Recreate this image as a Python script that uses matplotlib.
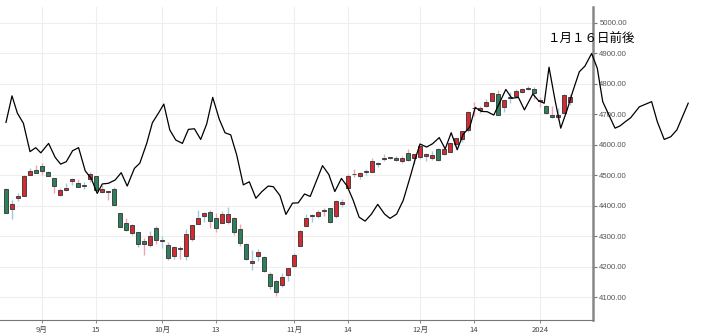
import matplotlib
matplotlib.use("Agg")
import matplotlib.pyplot as plt
import numpy as np

# ---- data (S&P-style daily candles, trading days) ----
dates = ["08-24","08-25","08-28","08-29","08-30","08-31","09-01","09-05","09-06","09-07",
         "09-08","09-11","09-12","09-13","09-14","09-15","09-18","09-19","09-20","09-21",
         "09-22","09-25","09-26","09-27","09-28","09-29","10-02","10-03","10-04","10-05",
         "10-06","10-09","10-10","10-11","10-12","10-13","10-16","10-17","10-18","10-19",
         "10-20","10-23","10-24","10-25","10-26","10-27","10-30","10-31","11-01","11-02",
         "11-03","11-06","11-07","11-08","11-09","11-10","11-13","11-14","11-15","11-16",
         "11-17","11-20","11-21","11-22","11-24","11-27","11-28","11-29","11-30","12-01",
         "12-04","12-05","12-06","12-07","12-08","12-11","12-12","12-13","12-14","12-15",
         "12-18","12-19","12-20","12-21","12-22","12-26","12-27","12-28","12-29","01-02",
         "01-03","01-04","01-05","01-08","01-09"]
opens = [4455,4389,4426,4433,4501,4518,4530,4510,4490,4434,
         4452,4481,4473,4463,4487,4497,4445,4446,4453,4375,
         4342,4310,4312,4283,4270,4328,4284,4270,4234,4260,
         4234,4289,4339,4366,4380,4360,4343,4346,4358,4322,
         4273,4210,4235,4232,4175,4152,4140,4171,4201,4268,
         4334,4365,4367,4384,4392,4365,4406,4458,4505,4497,
         4509,4511,4538,4554,4555,4555,4546,4571,4555,4559,
         4564,4557,4586,4568,4576,4601,4619,4647,4721,4714,
         4726,4744,4765,4724,4753,4758,4774,4786,4782,4745,
         4726,4698,4690,4704,4741]
highs = [4458,4418,4440,4500,4522,4532,4541,4514,4490,4457,
         4473,4490,4488,4478,4511,4497,4466,4449,4462,4376,
         4358,4338,4313,4293,4317,4333,4300,4281,4268,4267,
         4324,4336,4385,4378,4386,4377,4383,4394,4364,4339,
         4276,4255,4259,4233,4183,4156,4178,4195,4245,4319,
         4374,4372,4386,4392,4393,4418,4421,4504,4521,4511,
         4521,4557,4542,4569,4560,4562,4562,4587,4569,4599,
         4572,4579,4590,4591,4610,4623,4644,4709,4739,4726,
         4749,4769,4778,4748,4773,4784,4785,4793,4788,4755,
         4729,4727,4721,4765,4765]
lows = [4375,4356,4414,4431,4499,4507,4501,4496,4442,4430,
        4448,4468,4461,4455,4478,4448,4442,4417,4402,4329,
        4315,4303,4265,4239,4264,4274,4260,4220,4225,4226,
        4220,4283,4339,4345,4325,4312,4343,4338,4303,4269,
        4223,4189,4219,4181,4127,4103,4132,4153,4197,4268,
        4334,4347,4360,4365,4343,4358,4394,4458,4495,4488,
        4500,4510,4526,4545,4553,4546,4541,4547,4537,4554,
        4546,4551,4546,4566,4575,4593,4610,4643,4694,4704,
        4725,4743,4697,4708,4737,4758,4769,4780,4751,4722,
        4700,4688,4682,4703,4730]
closes = [4376,4406,4433,4497,4514,4508,4515,4497,4465,4451,
          4457,4487,4462,4467,4505,4450,4454,4444,4402,4330,
          4320,4337,4274,4275,4300,4288,4288,4229,4263,4258,
          4308,4336,4358,4376,4349,4327,4373,4373,4314,4278,
          4224,4217,4248,4186,4137,4117,4166,4194,4237,4318,
          4358,4365,4378,4383,4347,4415,4411,4496,4502,4508,
          4514,4547,4538,4556,4559,4550,4555,4551,4568,4595,
          4569,4567,4549,4585,4604,4622,4644,4707,4719,4719,
          4740,4768,4698,4746,4755,4775,4781,4783,4770,4743,
          4705,4689,4697,4764,4756]

# overlay projection line (position in trading days, value)
line_pos = [0.0,1.0,1.9,2.9,4.0,4.95,5.8,7.1,8.2,9.1,
            10.05,11.1,12.1,13.2,14.2,15.2,16.05,17.05,18.2,19.2,
            20.2,21.4,22.3,23.45,24.4,25.4,26.3,27.3,28.3,29.4,
            30.4,31.4,32.45,33.45,34.45,35.55,36.5,37.45,38.45,39.55,
            40.55,41.65,42.65,43.7,44.55,45.65,46.65,47.75,48.7,49.75,
            50.7,52.75,53.8,54.8,55.9,56.85,57.85,58.85,59.85,60.9,
            61.95,63.1,64.0,65.1,66.2,67.3,68.25,69.0,70.1,71.1,
            72.2,73.2,74.2,75.2,76.2,77.3,78.2,79.2,80.2,81.3,
            83.3,84.3,85.4,86.4,87.8,88.8,89.7,90.5,91.5,92.45,
            93.55,94.45,95.55,96.5,97.6,98.55,99.45,101.5,102.3,103.2,
            104.1,105.55,107.6,108.55,109.7,110.8,111.8,113.7]
line_vals = [4673,4760,4703,4670,4577,4590,4573,4604,4558,4536,
             4544,4580,4590,4514,4489,4440,4471,4473,4484,4508,
             4464,4522,4539,4604,4672,4703,4733,4648,4615,4604,
             4650,4652,4617,4668,4755,4683,4639,4632,4566,4468,
             4478,4424,4446,4464,4462,4433,4371,4408,4409,4438,
             4430,4531,4502,4446,4489,4464,4418,4362,4349,4372,
             4404,4372,4358,4372,4417,4490,4556,4602,4592,4603,
             4623,4586,4639,4583,4634,4658,4722,4709,4708,4697,
             4781,4752,4755,4714,4766,4743,4736,4854,4746,4654,
             4716,4774,4839,4858,4899,4850,4741,4654,4661,4675,
             4688,4724,4741,4675,4617,4626,4648,4736]

tick_dates = ["09-01","09-15","10-02","10-13","11-01","11-14","12-01","12-14","01-02"]
tick_labels = ["9月","15","10月","13","11月","14","12月","14","2024"]
y_ticks = [4100,4200,4300,4400,4500,4600,4700,4800,4900,5000]
annotation = "１月１６日前後"

# ---- figure ----
W, H = 706, 333
fig = plt.figure(figsize=(W/100, H/100), dpi=100)
ax = fig.add_axes([0.0, 1-320/H, 593/W, (320-7)/H])

x = np.arange(len(dates))
o = np.array(opens, float); c = np.array(closes, float)
h = np.array(highs, float); l = np.array(lows, float)
up = c >= o
red, green = "#d42a30", "#2d805c"
wick_up, wick_dn = "#9fcbe0", "#f0a3b0"

ax.vlines(x[up], l[up], h[up], color=wick_up, lw=1.0, zorder=2)
ax.vlines(x[~up], l[~up], h[~up], color=wick_dn, lw=1.0, zorder=2)
bottoms = np.minimum(o, c)
heights = np.maximum(np.abs(c - o), 2.5)
ax.bar(x, heights, bottom=bottoms, width=0.74,
       color=np.where(up, red, green), edgecolor="#333333", linewidth=0.6, zorder=3)

ax.plot(line_pos, line_vals, color="black", lw=0.9, clip_on=False, zorder=6)

ax.set_xlim(-1, 97.83)
ax.set_ylim(4024.6, 5051.5)

ax.yaxis.tick_right()
ax.set_yticks(y_ticks)
ax.set_yticklabels([f"{v:.2f}" for v in y_ticks], fontsize=5.6,
                   family=["Liberation Sans", "DejaVu Sans"], color="#555555")
ax.tick_params(axis="y", length=3, width=0.8, color="#777777", pad=1.5)

tpos = [dates.index(d) for d in tick_dates]
ax.set_xticks(tpos)
ax.set_xticklabels(tick_labels, fontsize=5.5,
                   family=["Noto Sans CJK JP", "DejaVu Sans"], color="#444444")
ax.tick_params(axis="x", length=2.5, width=0.6, color="#777777", pad=1.5)

ax.grid(True, color="#eeeeee", lw=0.8, zorder=0)
ax.set_axisbelow(True)
for s in ["left", "top"]:
    ax.spines[s].set_visible(False)
ax.spines["right"].set_color("#888888")
ax.spines["right"].set_linewidth(1.8)
ax.spines["bottom"].set_color("#777777")
ax.spines["bottom"].set_linewidth(0.8)

fig.text(548/W, 1-38/H, annotation, fontsize=9, va="center", ha="left",
         family=["Noto Sans CJK JP", "DejaVu Sans"], color="black")

fig.savefig("out.png", dpi=100, facecolor="white")
